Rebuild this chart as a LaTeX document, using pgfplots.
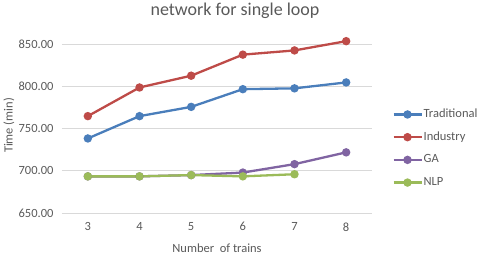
\documentclass[border=0pt]{standalone}
\usepackage{pgfplots}
\pgfplotsset{compat=1.18}
\usepackage{fontspec}
\setmainfont{Carlito}
\definecolor{tgray}{RGB}{89,89,89}
\definecolor{gridc}{RGB}{217,217,217}
\definecolor{cblue}{RGB}{74,126,187}
\definecolor{cred}{RGB}{190,75,72}
\definecolor{cpurple}{RGB}{128,100,162}
\definecolor{cgreen}{RGB}{155,187,89}
\begin{document}
\begin{tikzpicture}[x=1pt,y=1pt]
\path[use as bounding box] (0,0) rectangle (482,254);
\begin{axis}[
  at={(62pt,41pt)}, anchor=south west,
  scale only axis, width=310pt, height=181.1pt,
  xmin=2.5, xmax=8.5, ymin=650, ymax=865,
  xtick={3,4,5,6,7,8},
  ytick={650,700,750,800,850},
  ymajorgrids, grid style={color=gridc, line width=0.8pt},
  axis line style={draw=none},
  tick style={draw=none},
  clip=false,
  /pgf/number format/assume math mode=true,
  yticklabel style={/pgf/number format/.cd, fixed, fixed zerofill, precision=2, /tikz/.cd, xshift=-5pt},
  xticklabel style={yshift=-6pt},
  ticklabel style={font=\fontsize{12.5}{14}\selectfont, text=tgray},
  every axis plot/.append style={line width=2.3pt, mark=*, mark size=3pt, mark options={solid}},
  legend cell align=left,
  legend image code/.code={\draw[mark repeat=2,mark phase=2,#1] plot coordinates {(0pt,0pt) (14pt,0pt) (28pt,0pt)};},
  legend style={at={(1.065,0.356)}, anchor=west, draw=none, fill=none, inner sep=0pt,
    row sep=8.7pt, font=\fontsize{12.5}{14}\selectfont, text=tgray,
    nodes={inner sep=1pt, text height=9pt, text depth=3pt}},
]
\addplot[color=cblue] coordinates {(3,738.5) (4,765) (5,776) (6,797) (7,798) (8,805)};
\addlegendentry{Traditional}
\addplot[color=cred] coordinates {(3,765) (4,799) (5,813) (6,838) (7,843) (8,854)};
\addlegendentry{Industry}
\addplot[color=cpurple] coordinates {(3,693.5) (4,693.5) (5,695) (6,698) (7,708) (8,722)};
\addlegendentry{GA}
\addplot[color=cgreen] coordinates {(3,693.5) (4,693.5) (5,695) (6,693.5) (7,696)};
\addlegendentry{NLP}
\end{axis}
\node[text=tgray, font=\fontsize{18}{20}\selectfont] at (235,243) {network for single loop};
\node[text=tgray, font=\fontsize{12.5}{14}\selectfont] at (217,6) {Number\ \ of trains};
\node[text=tgray, font=\fontsize{12.5}{14}\selectfont, rotate=90] at (9,128.5) {Time (min)};
\end{tikzpicture}
\end{document}
